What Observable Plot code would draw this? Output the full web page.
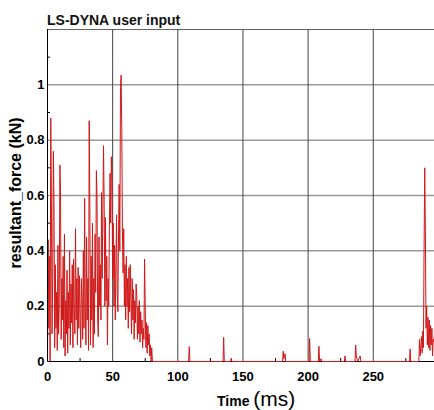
<!DOCTYPE html>
<html><head><meta charset="utf-8">
<script src="https://cdn.jsdelivr.net/npm/d3@7"></script>
<script src="https://cdn.jsdelivr.net/npm/@observablehq/plot@0.6"></script>
<style>body{margin:0;background:#fff;}</style>
</head><body><div id="chart"></div>
<script>
const timeMs = [
0,0.5,1,1.5,2,2.5,3,3.5,4,4.5,5,5.5,6,6.5,7,7.5,8,8.5,9,9.5,
10,10.5,11,11.5,12,12.5,13,13.5,14,14.5,15,15.5,16,16.5,17,17.5,18,18.5,19,19.5,
20,20.5,21,21.5,22,22.5,23,23.5,24,24.5,25,25.5,26,26.5,27,27.5,28,28.5,29,29.5,
30,30.5,31,31.5,32,32.5,33,33.5,34,34.5,35,35.5,36,36.5,37,37.5,38,38.5,39,39.5,
40,40.5,41,41.5,42,42.5,43,43.5,44,44.5,45,45.5,46,46.5,47,47.5,48,48.5,49,49.5,
50,50.5,51,51.5,52,52.5,53,53.5,54,54.5,55,55.5,56,56.5,57,57.5,58,58.5,59,59.5,
60,60.5,61,61.5,62,62.5,63,63.5,64,64.5,65,65.5,66,66.5,67,67.5,68,68.5,69,69.5,
70,70.5,71,71.5,72,72.5,73,73.5,74,74.5,75,75.5,76,76.5,77,77.5,78,78.5,79,79.5,
80,80.5,81,
108.3,108.8,109.3,134.7,135.2,135.7,140.5,141,141.5,
180.4,180.9,181.4,182.3,182.8,200.7,201.2,201.7,207.8,208.3,208.8,210,210.5,
227.8,228.3,228.8,236,236.5,237,238,240,240.5,277.8,278.3,278.8,
285,285.5,286,287,287.5,288,288.5,289,289.5,290,290.5,291,291.5,292,292.5,293,293.5,294,294.5,295,295.5,296,296.5,297
];
const forceKN = [
0.0,0.44,0.12,0.38,0.0,0.88,0.58,0.1,0.3,0.76,0.58,0.05,0.35,0.12,0.25,0.04,0.42,0.1,0.2,0.71,
0.62,0.08,0.3,0.15,0.38,0.05,0.46,0.02,0.22,0.1,0.33,0.03,0.25,0.12,0.4,0.06,0.28,0.14,0.35,0.05,
0.37,0.2,0.1,0.48,0.15,0.3,0.06,0.34,0.12,0.31,0.18,0.05,0.3,0.23,0.08,0.4,0.12,0.59,0.2,0.06,
0.45,0.15,0.3,0.04,0.87,0.56,0.06,0.38,0.15,0.5,0.05,0.3,0.1,0.46,0.25,0.69,0.6,0.15,0.09,0.45,
0.2,0.35,0.15,0.61,0.3,0.55,0.78,0.57,0.2,0.52,0.22,0.38,0.06,0.3,0.2,0.48,0.68,0.5,0.74,0.65,
0.3,0.5,0.2,0.42,0.15,0.35,0.53,0.25,0.18,0.45,0.64,0.4,0.99,1.035,0.84,0.47,0.32,0.48,0.2,0.35,
0.15,0.38,0.2,0.3,0.12,0.34,0.18,0.35,0.22,0.1,0.3,0.15,0.26,0.08,0.22,0.14,0.28,0.24,0.08,0.2,
0.1,0.22,0.07,0.18,0.1,0.15,0.05,0.12,0.08,0.37,0.2,0.05,0.14,0.03,0.13,0.06,0.1,0.02,0.06,0.0,
0.05,0.0,0.0,
0,0.054,0,0,0.087,0,0,0.012,0,
0,0.037,0.01,0.028,0,0,0.083,0,0,0.055,0,0.01,0,
0,0.02,0,0,0.06,0.02,0,0.02,0,0,0.045,0,
0,0.08,0.02,0.09,0.03,0.11,0.05,0.4,0.7,0.47,0.12,0.2,0.06,0.16,0.05,0.15,0.04,0.13,0.06,0.12,0.02,0.08,0.07,0.1
];
const xTicks = [0,50,100,150,200,250];
const yTicks = [0,0.2,0.4,0.6,0.8,1];
const xGrid = [50,100,150,200,250];
const yGrid = [0.2,0.4,0.6,0.8,1];
const xMinor = [25,75,125,175,225,275];
const yMinor = [0.1,0.3,0.5,0.7,0.9,1.1];
const xDomain = [0,297];
const yDomain = [0,1.2];
const title = "LS-DYNA user input";
const yLabel = "resultant_force (kN)";
const xLabelMain = "Time ";
const xLabelUnit = "(ms)";

const data = timeMs.map((t,i)=>({t, f: forceKN[i]}));
const font = "'Liberation Sans Narrow', 'Liberation Sans', Arial, sans-serif";
const plot = Plot.plot({
  width:434, height:410, marginTop:29, marginBottom:49, marginLeft:47, marginRight:0,
  style:{fontFamily:font, fontWeight:"bold", fontSize:"13px", color:"#000", background:"#fff", overflow:"visible"},
  x:{domain:xDomain, label:null},
  y:{domain:yDomain, label:null},
  marks:[
    Plot.ruleY(yGrid,{stroke:"#999", strokeWidth:1.5}),
    Plot.ruleY([yDomain[1]],{stroke:"#666", strokeWidth:1}),
    Plot.ruleX(xGrid,{stroke:"#444", strokeWidth:1}),
    Plot.axisX({ticks:xTicks, tickSize:0, tickPadding:10, label:null, tickFormat:d=>String(d)}),
    Plot.axisY({ticks:yTicks, tickSize:0, tickPadding:3, label:null, tickFormat:d=>String(d)}),
    Plot.axisX({ticks:xMinor, tickSize:-3, tickFormat:()=>"", label:null}),
    Plot.axisY({ticks:yMinor, tickSize:-3, tickFormat:()=>"", label:null}),
    Plot.ruleY([0],{stroke:"#000"}),
    Plot.line(data,{x:"t", y:"f", stroke:"#d01818", strokeWidth:1}),
    Plot.ruleX([0],{stroke:"#000"})
  ]
});
const svg = d3.select(plot);
svg.append("text").attr("x",47).attr("y",25).attr("text-anchor","start")
  .style("font-family",font).style("font-size","14px").style("font-weight","bold").attr("fill","#111")
  .text(title);
svg.append("text").attr("transform","translate(21,193) rotate(-90)").attr("text-anchor","middle")
  .style("font-family","'Liberation Sans', Arial, sans-serif").style("font-size","16px").style("font-weight","bold").attr("fill","#000")
  .text(yLabel);
const xl = svg.append("text").attr("x",217).attr("y",406).attr("text-anchor","start").attr("fill","#000");
xl.append("tspan").style("font-family",font).style("font-size","14px").style("font-weight","bold").text(xLabelMain);
xl.append("tspan").style("font-family","'Liberation Sans', Arial, sans-serif").style("font-size","21px").style("font-weight","normal").text(xLabelUnit);
document.getElementById("chart").appendChild(plot);
</script>
</body></html>
